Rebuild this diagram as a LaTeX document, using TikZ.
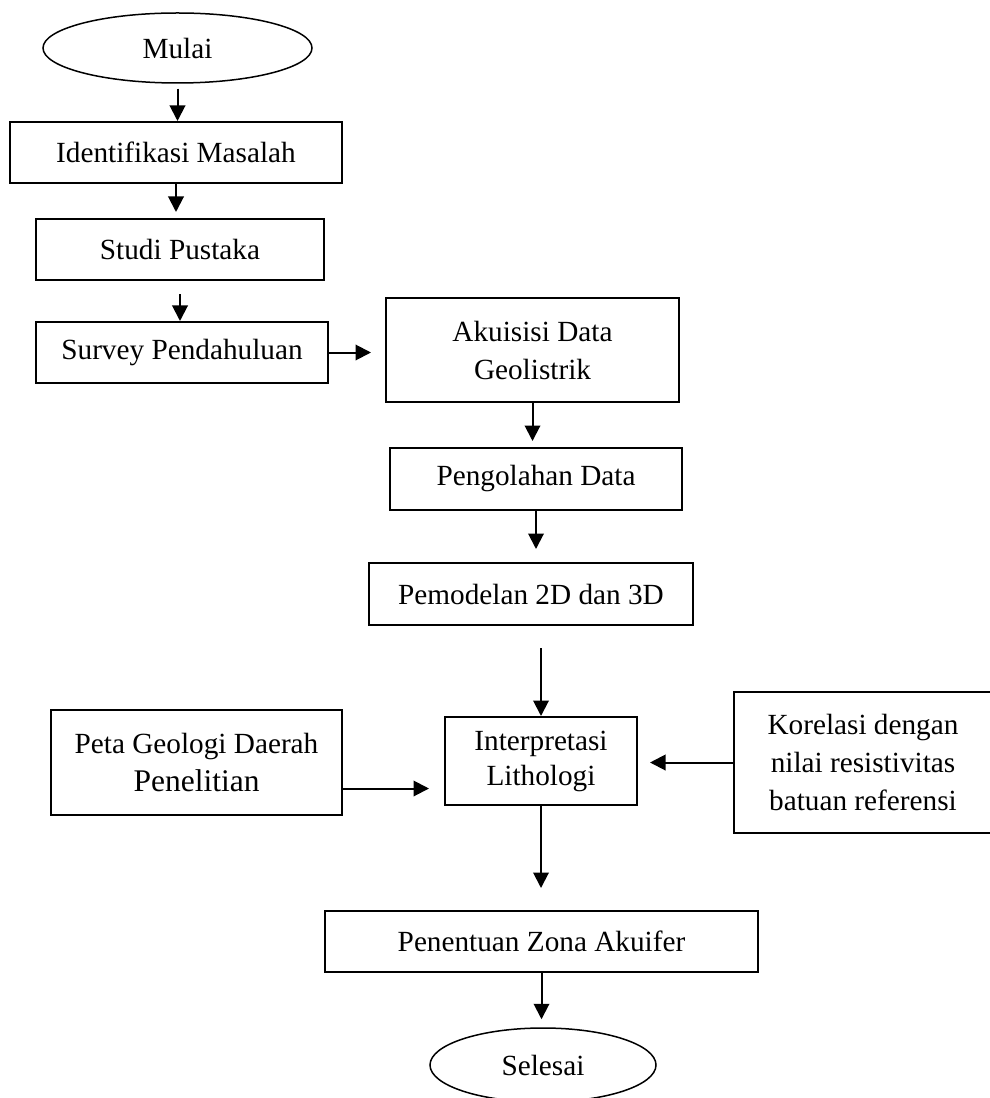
\documentclass[tikz,border=0pt]{standalone}
\usepackage{fontspec}
\setmainfont{Liberation Serif}
\usetikzlibrary{shapes.geometric,arrows.meta}

\tikzset{
  kotak/.style={draw, rectangle, line width=0.8pt, inner sep=0pt, align=center,
    font=\fontsize{11.7pt}{15.2pt}\selectfont},
  elips/.style={draw, ellipse, line width=0.6pt, inner sep=0pt, align=center,
    font=\fontsize{11.7pt}{15.2pt}\selectfont},
  panah/.style={line width=0.8pt, -{Triangle[length=6.2pt,width=6.2pt]}}
}

\begin{document}
\begin{tikzpicture}[x=0.4pt,y=-0.4pt]
        \useasboundingbox (0,0) rectangle (989,1098);

         % Blocchi del diagramma
        \node[elips, minimum width=107.6pt, minimum height=28pt] (mulai) at (177.5,48) {\raisebox{-1.5pt}{Mulai}};
        \node[kotak, minimum width=132.8pt, minimum height=24.4pt] (identifikasi) at (176,152.5) {Identifikasi Masalah};
        \node[kotak, minimum width=115.2pt, minimum height=24.4pt] (studi) at (180,249.5) {Studi Pustaka};
        \node[kotak, minimum width=116.8pt, minimum height=24.4pt] (survey) at (182,352.5) {Survey Pendahuluan};
        \node[kotak, minimum width=117.2pt, minimum height=41.6pt] (akuisisi) at (532.5,350) {Akuisisi Data\\Geolistrik};
        \node[kotak, minimum width=116.8pt, minimum height=24.8pt] (pengolahan) at (536,479) {Pengolahan Data};
        \node[kotak, minimum width=129.6pt, minimum height=24.8pt] (pemodelan) at (531,594) {Pemodelan 2D dan 3D};
        \node[kotak, minimum width=76.8pt, minimum height=35.2pt, font=\fontsize{11.7pt}{14pt}\selectfont] (interpretasi) at (541,761) {Interpretasi\\Lithologi};
        \node[kotak, minimum width=116.4pt, minimum height=42pt] (peta) at (196.5,762.5) {Peta Geologi Daerah\\{\fontsize{12.6pt}{15.2pt}\selectfont Penelitian}};
        \node[kotak, minimum width=103.2pt, minimum height=56.4pt] (korelasi) at (863,762.5) {Korelasi dengan\\nilai resistivitas\\batuan referensi};
        \node[kotak, minimum width=173.2pt, minimum height=24.4pt] (penentuan) at (541.5,941.5) {Penentuan Zona Akuifer};
        \node[elips, minimum width=90.4pt, minimum height=29.6pt] (selesai) at (543,1065) {Selesai};

         % Frecce tra i blocchi
        \draw[panah, shorten <=2pt] (mulai.south) -- (mulai.south |- identifikasi.north);
        \draw[panah, shorten >=2.4pt] (identifikasi.south) -- (identifikasi.south |- studi.north);
        \draw[panah, shorten <=5.2pt] (studi.south) -- (studi.south |- survey.north);
        \draw[panah, shorten >=5.6pt] (survey.east) -- (survey.east -| akuisisi.west);
        \draw[panah, shorten >=2.4pt] (akuisisi.south) -- (akuisisi.south |- pengolahan.north);
        \draw[panah, shorten >=5.2pt] (pengolahan.south) -- (pengolahan.south |- pemodelan.north);
        \draw[panah, shorten <=8.8pt] (pemodelan.south -| interpretasi.north) -- (interpretasi.north);
        \draw[panah, shorten >=6pt] ([yshift=-10.4pt]peta.east) -- ([yshift=-10.4pt]peta.east -| interpretasi.west);
        \draw[panah, shorten >=4.8pt] (korelasi.west) -- (korelasi.west -| interpretasi.east);
        \draw[panah, shorten >=8.8pt] (interpretasi.south) -- (interpretasi.south |- penentuan.north);
        \draw[panah, shorten >=3.2pt] (penentuan.south) -- (penentuan.south |- selesai.north);
    \end{tikzpicture}
\end{document}
